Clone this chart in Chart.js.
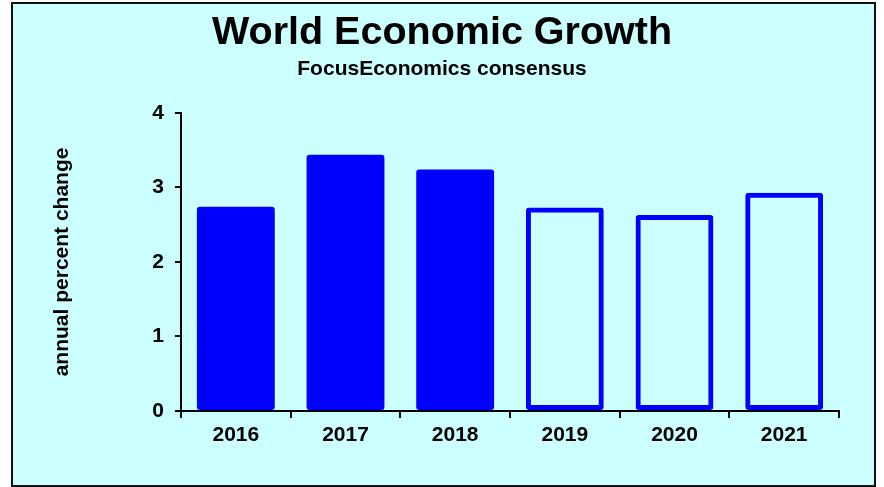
<!DOCTYPE html>
<html>
<head>
<meta charset="utf-8">
<script src="https://cdn.jsdelivr.net/npm/chart.js@4.4.1/dist/chart.umd.min.js"></script>
<style>
  body { margin: 0; background: #fff; }
  #frame {
    position: absolute; left: 11px; top: 2px; width: 865px; height: 485px;
    box-sizing: border-box; border: 2px solid #111; background: #CCFFFF;
  }
  #myChart { position: absolute; left: 0; top: 0; }
</style>
</head>
<body>
<div id="frame"></div>
<canvas id="myChart" width="884" height="487"></canvas>
<script>
const years = ['2016', '2017', '2018', '2019', '2020', '2021'];
const growth = [2.74, 3.44, 3.24, 2.73, 2.63, 2.93];
// consensus forecast years are drawn as outlined bars
const isForecast = [false, false, false, true, true, true];
const yTicks = [0, 1, 2, 3, 4];

Chart.defaults.font.family = "'Liberation Sans', Arial, sans-serif";
Chart.defaults.font.weight = 'bold';
Chart.defaults.color = '#000';

const data = {
    labels: years,
    datasets: [{
        data: growth,
        backgroundColor: isForecast.map(f => f ? 'transparent' : '#0000FF'),
        borderColor: '#0000FF',
        borderWidth: isForecast.map(f => f ? 5 : 0),
        borderSkipped: false,
        borderRadius: 3,
        barPercentage: 0.71,
        categoryPercentage: 1
    }]
};

const config = {
    type: 'bar',
    data: data,
    options: {
        responsive: false,
        animation: false,
        layout: {
            padding: 0
        },
        plugins: {
            legend: { display: false },
            tooltip: { enabled: false },
            title: {
                display: true,
                text: 'World Economic Growth',
                font: { size: 39.5, weight: 'bold' },
                color: '#000',
                padding: { top: 9.5, bottom: 0 }
            },
            subtitle: {
                display: true,
                text: 'FocusEconomics consensus',
                font: { size: 21, weight: 'bold' },
                color: '#000',
                padding: { top: 0, bottom: 30.8 }
            }
        },
        scales: {
            x: {
                afterFit: scale => { scale.height = 76; },
                border: { color: '#000', width: 2 },
                grid: {
                    drawOnChartArea: false,
                    color: '#000',
                    lineWidth: 2,
                    tickLength: 7
                },
                ticks: {
                    font: { size: 21, weight: 'bold' },
                    color: '#000',
                    padding: 5
                }
            },
            y: {
                min: 0,
                max: 4,
                afterFit: scale => { scale.width = 181; },
                afterBuildTicks: scale => { scale.ticks = yTicks.map(v => ({ value: v })); },
                border: { color: '#000', width: 2 },
                grid: {
                    drawOnChartArea: false,
                    color: '#000',
                    lineWidth: 2,
                    tickLength: 6
                },
                ticks: {
                    font: { size: 21, weight: 'bold' },
                    color: '#000',
                    padding: 11
                },
                title: {
                    display: true,
                    text: 'annual percent change',
                    font: { size: 21, weight: 'bold' },
                    color: '#000',
                    padding: { top: 50, bottom: 0 }
                }
            },
            // empty axis that only reserves the space right of the plot
            yRight: {
                position: 'right',
                afterFit: scale => { scale.width = 45; },
                border: { display: false },
                grid: { display: false },
                ticks: { display: false }
            }
        }
    }
};

const myChart = new Chart(
    document.getElementById('myChart'),
    config
);
</script>
</body>
</html>
